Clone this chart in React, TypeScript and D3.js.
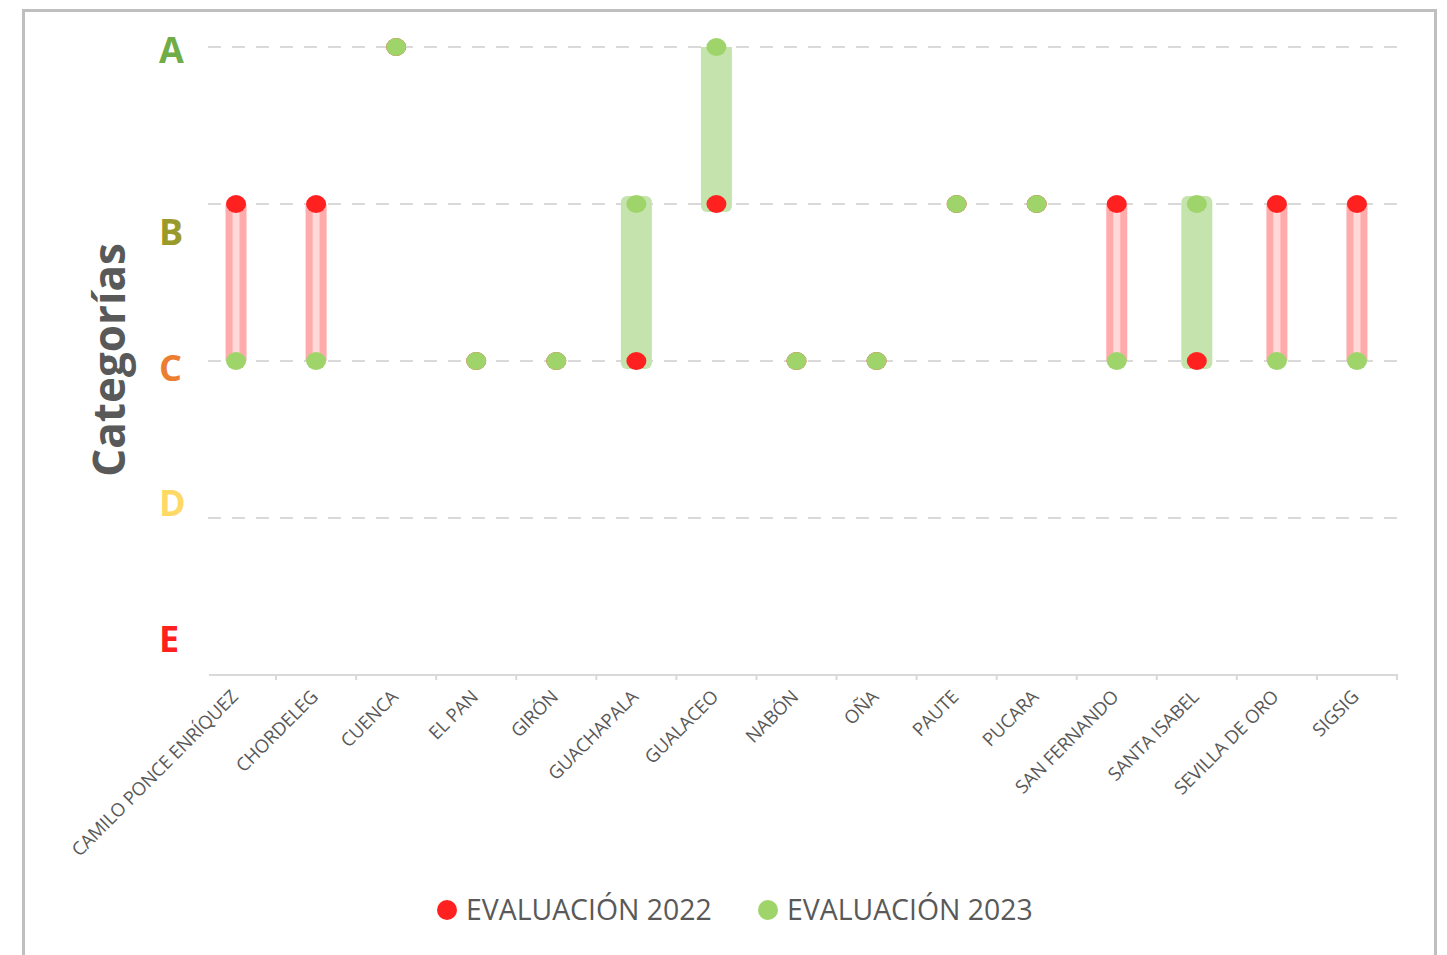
import React from "react";
import * as d3 from "d3";

const categories = [
  "CAMILO PONCE ENRÍQUEZ",
  "CHORDELEG",
  "CUENCA",
  "EL PAN",
  "GIRÓN",
  "GUACHAPALA",
  "GUALACEO",
  "NABÓN",
  "OÑA",
  "PAUTE",
  "PUCARA",
  "SAN FERNANDO",
  "SANTA ISABEL",
  "SEVILLA DE ORO",
  "SIGSIG",
];
const eval2022 = ["B", "B", "A", "C", "C", "C", "B", "C", "C", "B", "B", "B", "C", "B", "B"];
const eval2023 = ["C", "C", "A", "C", "C", "B", "A", "C", "C", "B", "B", "C", "B", "C", "C"];
const levels = ["A", "B", "C", "D", "E"];
const levelColors = ["#70ad47", "#9a9a2a", "#ed7d31", "#ffd966", "#ff2020"];
const levelLabelY = [63, 245, 381, 516, 652];
const seriesNames = ["EVALUACIÓN 2022", "EVALUACIÓN 2023"];
const seriesColors = ["#ff2020", "#9fd46b"];

export default function App() {
  const x = d3.scaleBand<string>().domain(categories).range([196, 1397]);
  const y = d3.scalePoint<string>().domain(levels).range([47, 675]);
  const rank = (l: string) => levels.indexOf(l);
  const font = "'Open Sans', sans-serif";
  const gridLevels = levels.slice(0, 4);

  return (
    <svg
      width={1447}
      height={955}
      style={{ position: "absolute", left: 0, top: 0, background: "#fff" }}
    >
      <defs>
        <clipPath id="plot">
          <rect x={190} y={y("A")!} width={1220} height={640} />
        </clipPath>
      </defs>
      {/* frame */}
      <rect x={23.5} y={10.5} width={1412} height={980} fill="none" stroke="#bfbfbf" strokeWidth={3} />

      {/* gridlines */}
      {gridLevels.map((l) => (
        <line
          key={l}
          x1={1397}
          x2={208}
          y1={y(l)}
          y2={y(l)}
          stroke="#d9d9d9"
          strokeWidth={2}
          strokeDasharray="13,11"
        />
      ))}

      {/* x axis */}
      <line x1={209} x2={1398} y1={y("E")} y2={y("E")} stroke="#d9d9d9" strokeWidth={2} />
      {categories.map((c, i) => (
        <line
          key={"t" + i}
          x1={x(c)! + x.bandwidth()}
          x2={x(c)! + x.bandwidth()}
          y1={y("E")!}
          y2={y("E")! + 5}
          stroke="#d9d9d9"
          strokeWidth={2}
        />
      ))}

      {/* bars */}
      <g clipPath="url(#plot)">
        {categories.map((c, i) => {
          const a = eval2022[i];
          const b = eval2023[i];
          if (a === b) return null;
          const cx = x(c)! + x.bandwidth() / 2;
          const y1 = Math.min(y(a)!, y(b)!);
          const y2 = Math.max(y(a)!, y(b)!);
          const improved = rank(b) < rank(a);
          if (improved) {
            return (
              <rect
                key={"bar" + i}
                x={cx - 15.5}
                y={y1 - 8}
                width={31}
                height={y2 - y1 + 16}
                rx={6}
                fill="#c5e3ad"
              />
            );
          }
          return (
            <g key={"bar" + i}>
              <rect x={cx - 10.5} y={y1} width={21} height={y2 - y1} fill="#ffabab" />
              <rect x={cx - 3.5} y={y1} width={7} height={y2 - y1} fill="#ffd8d8" />
            </g>
          );
        })}
      </g>

      {/* dots 2022 */}
      {categories.map((c, i) => (
        <ellipse
          key={"r" + i}
          cx={x(c)! + x.bandwidth() / 2}
          cy={y(eval2022[i])}
          rx={10}
          ry={9}
          fill={seriesColors[0]}
        />
      ))}
      {/* dots 2023 */}
      {categories.map((c, i) => (
        <ellipse
          key={"g" + i}
          cx={x(c)! + x.bandwidth() / 2}
          cy={y(eval2023[i])}
          rx={10}
          ry={9}
          fill={seriesColors[1]}
        />
      ))}

      {/* level labels */}
      {levels.map((l, i) => (
        <text
          key={"l" + l}
          x={159}
          y={levelLabelY[i]}
          fontFamily={font}
          fontWeight={700}
          fontSize={36}
          fill={levelColors[i]}
        >
          {l}
        </text>
      ))}

      {/* axis title */}
      <text
        transform="translate(125,360) rotate(-90)"
        textAnchor="middle"
        fontFamily={font}
        fontWeight={700}
        fontSize={44}
        fill="#595959"
      >
        Categorías
      </text>

      {/* x labels */}
      {categories.map((c) => (
        <text
          key={"xl" + c}
          transform={`translate(${x(c)! + x.bandwidth() / 2 + 3},${y("E")! + 23}) rotate(-45)`}
          textAnchor="end"
          fontFamily={font}
          fontSize={18.5}
          letterSpacing={-0.2}
          fill="#595959"
        >
          {c}
        </text>
      ))}

      {/* legend */}
      {seriesNames.map((s, i) => {
        const lx = [447, 768][i];
        return (
          <g key={"lg" + i}>
            <circle cx={lx} cy={910} r={10} fill={seriesColors[i]} />
            <text x={lx + 19} y={920} fontFamily={font} fontSize={28.4} fill="#595959">
              {s}
            </text>
          </g>
        );
      })}
    </svg>
  );
}
